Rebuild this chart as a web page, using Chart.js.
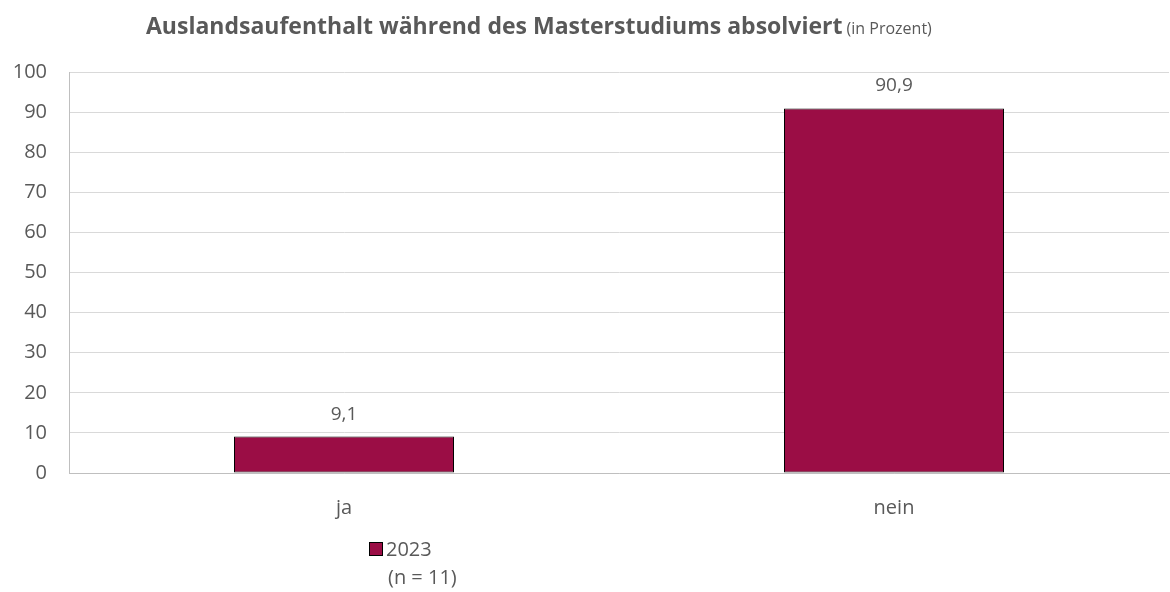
<!DOCTYPE html>
<html>
<head>
	<title>Auslandsaufenthalt</title>
	<script src="https://cdn.jsdelivr.net/npm/chart.js@4"></script>
<style>
	body { margin: 0; background: #fff; }
	#wrap { width: 1170px; height: 592px; position: relative; }
</style>
</head>
<body>
<div id="wrap">
	<canvas id="chart" width="1170" height="592"></canvas>
</div>

<script lang="text/javascript">
var categories = ['ja', 'nein'];
var values2023 = [9.1, 90.9];
var seriesLabel = '2023';
var sampleNote = '(n = 11)';
var yTicks = [0, 10, 20, 30, 40, 50, 60, 70, 80, 90, 100];

var fontName = '"Open Sans", "Noto Sans", sans-serif';
var textColor = '#595959';
var barColor = '#9b0d45';

function fmt(v) {
	return v.toFixed(1).replace('.', ',');
}

// title, value labels and legend drawn by hand
var extras = {
	id : 'extras',
	afterDraw : function(chart) {
		var ctx = chart.ctx;
		ctx.save();
		ctx.fillStyle = textColor;
		ctx.textBaseline = 'alphabetic';

		ctx.font = 'bold 23px ' + fontName;
		var t1 = 'Auslandsaufenthalt während des Masterstudiums absolviert';
		var w1 = ctx.measureText(t1).width;
		ctx.font = '16px ' + fontName;
		var t2 = ' (in Prozent)';
		var w2 = ctx.measureText(t2).width;
		var x0 = 146;
		ctx.font = 'bold 23px ' + fontName;
		ctx.textAlign = 'left';
		ctx.fillText(t1, x0, 34);
		ctx.font = '16px ' + fontName;
		ctx.fillText(t2, x0 + w1, 34);

		// value labels
		ctx.font = '19px ' + fontName;
		ctx.textAlign = 'center';
		var meta = chart.getDatasetMeta(0);
		meta.data.forEach(function(bar, i) {
			ctx.fillText(fmt(values2023[i]), bar.x, bar.y - 17);
		});

		// legend
		ctx.fillStyle = barColor;
		ctx.fillRect(369, 542, 14, 14);
		ctx.strokeStyle = '#000';
		ctx.lineWidth = 1;
		ctx.strokeRect(369.5, 542.5, 13, 13);
		ctx.fillStyle = textColor;
		ctx.textAlign = 'left';
		ctx.font = '20px ' + fontName;
		ctx.fillText(seriesLabel, 386, 556);
		ctx.fillText(sampleNote, 388, 584);
		ctx.restore();
	}
};

var chart = new Chart(document.getElementById('chart'), {
	type : 'bar',
	data : {
		labels : categories,
		datasets : [{
			label : seriesLabel,
			data : values2023,
			backgroundColor : barColor,
			borderColor : '#000',
			borderWidth : 1,
			borderSkipped : false,
			barPercentage : 0.4,
			categoryPercentage : 1
		}]
	},
	options : {
		responsive : false,
		animation : false,
		devicePixelRatio : 1,
		layout : {
			padding : { top : 72, left : 0, right : 1, bottom : 0 }
		},
		plugins : {
			legend : { display : false },
			tooltip : { enabled : false }
		},
		scales : {
			x : {
				grid : { display : false },
				border : { color : '#bfbfbf', width : 1 },
				ticks : {
					color : textColor,
					font : { family : fontName, size : 20 },
					padding : 15
				},
				afterFit : function(scale) { scale.height = 119; }
			},
			y : {
				min : 0,
				max : 100,
				afterBuildTicks : function(scale) {
					scale.ticks = yTicks.map(function(v) { return { value : v }; });
				},
				grid : { color : '#d9d9d9', drawTicks : false },
				border : { color : '#bfbfbf', width : 1 },
				ticks : {
					color : textColor,
					font : { family : fontName, size : 20 },
					padding : 22
				},
				afterFit : function(scale) { scale.width = 69; }
			}
		}
	},
	plugins : [extras]
});
</script>
</body>
</html>
